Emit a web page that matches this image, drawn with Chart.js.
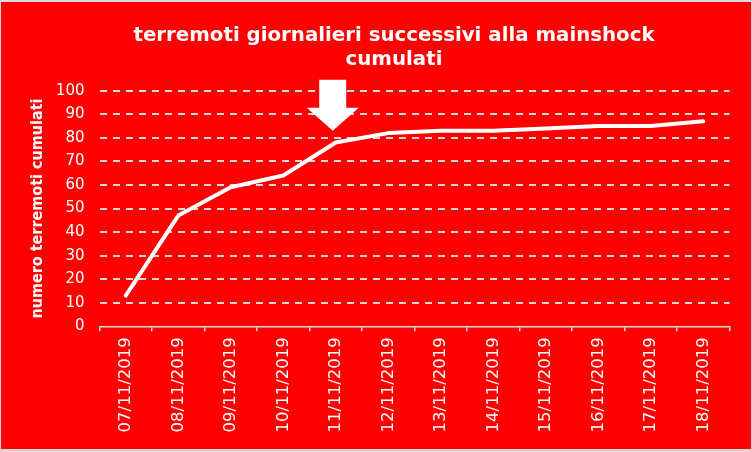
<!DOCTYPE html>
<html>
<head>
<meta charset="utf-8">
<script src="https://cdn.jsdelivr.net/npm/chart.js@4.4.1/dist/chart.umd.min.js"></script>
<style>
    body { margin: 0; background: #d9d9d9; }
    canvas { display: block; }
</style>
</head>
<body>
<canvas id="quakeChart" width="752" height="452"></canvas>
<script>
const days = [
    '07/11/2019', '08/11/2019', '09/11/2019', '10/11/2019', '11/11/2019', '12/11/2019',
    '13/11/2019', '14/11/2019', '15/11/2019', '16/11/2019', '17/11/2019', '18/11/2019'
];
const cumulated = [13, 47, 59, 64, 78, 82, 83, 83, 84, 85, 85, 87];
const yTicks = [0, 10, 20, 30, 40, 50, 60, 70, 80, 90, 100];
const titleLines = ['terremoti giornalieri successivi alla mainshock', 'cumulati'];
const yTitle = 'numero terremoti cumulati';
// the white arrow points at the mainshock day
const arrowDay = '11/11/2019';
const arrowTipValue = 83;

const gridGray = '#d9d9d9';

const backgroundPlugin = {
    id: 'redBackground',
    beforeDraw(chart) {
        const ctx = chart.ctx;
        ctx.save();
        ctx.fillStyle = gridGray;
        ctx.fillRect(0, 0, chart.width, chart.height);
        ctx.fillStyle = '#ff0000';
        ctx.fillRect(1, 2, chart.width - 2, chart.height - 5);
        ctx.restore();
    }
};

const titlePlugin = {
    id: 'twoLineTitle',
    afterDraw(chart) {
        const ctx = chart.ctx;
        ctx.save();
        ctx.fillStyle = '#ffffff';
        ctx.font = 'bold 19.8px "DejaVu Sans", sans-serif';
        ctx.textAlign = 'center';
        ctx.textBaseline = 'alphabetic';
        titleLines.forEach((line, i) => {
            ctx.fillText(line, 394, 41 + i * 24);
        });
        ctx.restore();
    }
};

const arrowPlugin = {
    id: 'downArrow',
    afterDatasetsDraw(chart) {
        const x = chart.scales.x.getPixelForValue(days.indexOf(arrowDay)) - 3;
        const tip = chart.scales.y.getPixelForValue(arrowTipValue);
        const ctx = chart.ctx;
        ctx.save();
        ctx.fillStyle = '#ffffff';
        ctx.beginPath();
        ctx.moveTo(x - 13.5, tip - 51);
        ctx.lineTo(x + 13.5, tip - 51);
        ctx.lineTo(x + 13.5, tip - 23);
        ctx.lineTo(x + 26, tip - 23);
        ctx.lineTo(x, tip);
        ctx.lineTo(x - 26, tip - 23);
        ctx.lineTo(x - 13.5, tip - 23);
        ctx.closePath();
        ctx.fill();
        ctx.restore();
    }
};

new Chart(document.getElementById('quakeChart'), {
    type: 'line',
    data: {
        labels: days,
        datasets: [{
            data: cumulated,
            borderColor: '#ffffff',
            borderWidth: 4,
            borderCapStyle: 'round',
            borderJoinStyle: 'round',
            pointRadius: 0,
            tension: 0,
            fill: false
        }]
    },
    options: {
        responsive: false,
        animation: false,
        devicePixelRatio: 1,
        layout: {
            padding: { top: 90.7, right: 22.5, bottom: 0, left: 0 }
        },
        plugins: {
            legend: { display: false },
            title: { display: false },
            tooltip: { enabled: false }
        },
        scales: {
            x: {
                offset: true,
                afterFit: scale => { scale.height = 125.7; },
                grid: {
                    offset: true,
                    drawOnChartArea: false,
                    drawTicks: true,
                    tickLength: 5,
                    color: gridGray,
                    lineWidth: 1.5
                },
                border: { display: true, color: gridGray, width: 1.5 },
                ticks: {
                    color: '#ffffff',
                    minRotation: 90,
                    maxRotation: 90,
                    padding: 6,
                    font: { family: '"DejaVu Sans", sans-serif', size: 16.5 }
                }
            },
            y: {
                min: 0,
                max: 100,
                afterFit: scale => { scale.width = 99.5; },
                afterBuildTicks: scale => {
                    scale.ticks = yTicks.map(v => ({ value: v }));
                },
                grid: {
                    drawTicks: false,
                    color: ctx => ctx.tick && ctx.tick.value === 0 ? 'rgba(0,0,0,0)' : gridGray,
                    lineWidth: 2
                },
                border: { display: false, dash: [7, 6] },
                ticks: {
                    color: '#ffffff',
                    padding: 15,
                    font: { family: '"DejaVu Sans", sans-serif', size: 15 }
                },
                title: {
                    display: true,
                    text: yTitle,
                    color: '#ffffff',
                    padding: { top: 28, bottom: 0 },
                    font: { family: '"DejaVu Sans Condensed", "DejaVu Sans", sans-serif', size: 16, weight: 'bold' }
                }
            }
        }
    },
    plugins: [backgroundPlugin, titlePlugin, arrowPlugin]
});
</script>
</body>
</html>
